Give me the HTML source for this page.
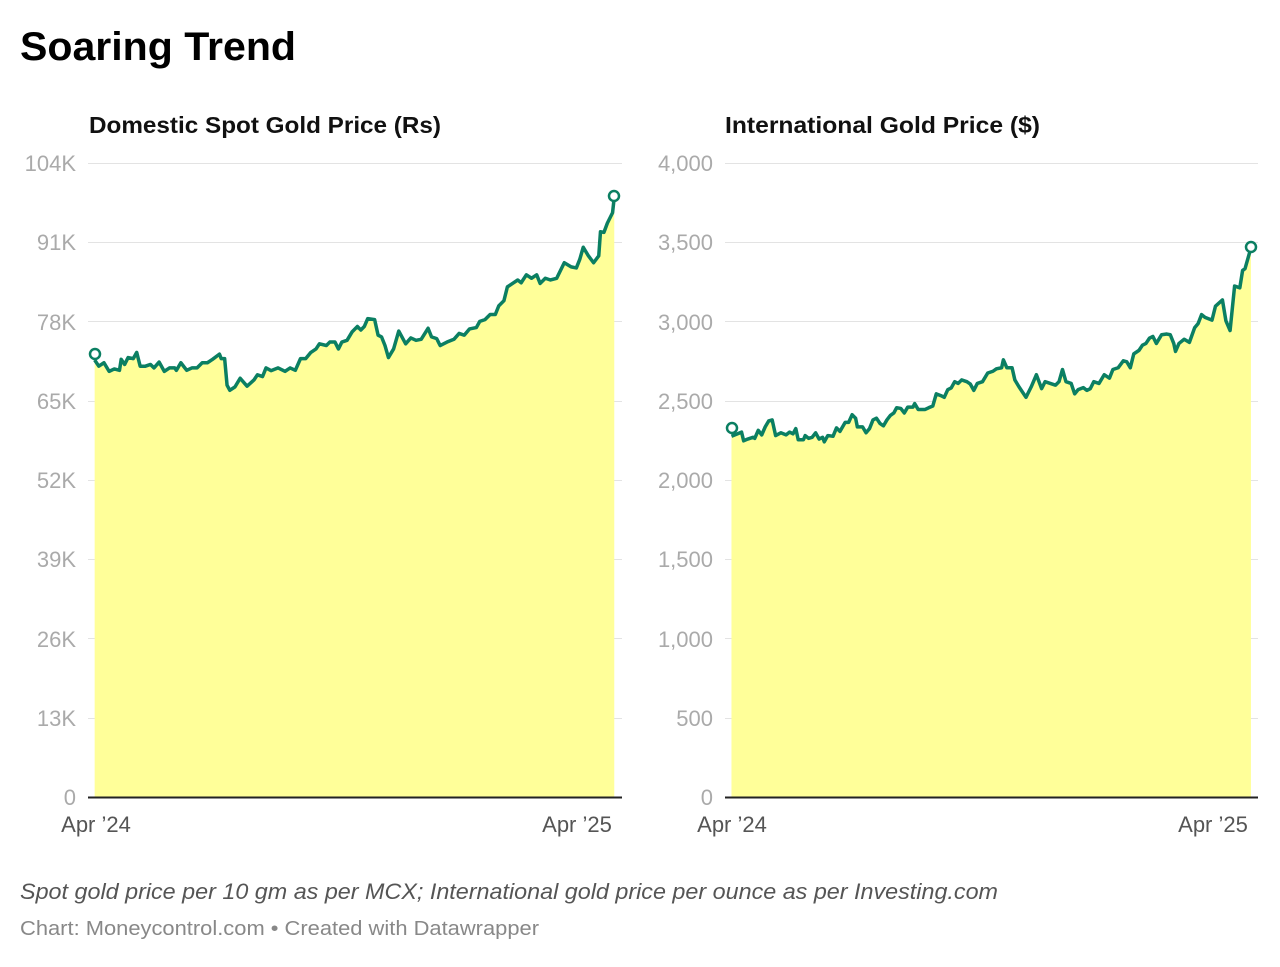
<!DOCTYPE html>
<html><head><meta charset="utf-8"><style>
body{margin:0;background:#fff;width:1280px;height:962px;overflow:hidden;font-family:"Liberation Sans",Arial,sans-serif;}
</style></head><body>
<svg width="1280" height="962" xmlns="http://www.w3.org/2000/svg" font-family="Liberation Sans, Arial, sans-serif">
<text x="20" y="60" font-size="40" font-weight="bold" fill="#000" textLength="276" lengthAdjust="spacingAndGlyphs">Soaring Trend</text>
<text x="89" y="133" font-size="23" font-weight="bold" fill="#111" textLength="352" lengthAdjust="spacingAndGlyphs">Domestic Spot Gold Price (Rs)</text>
<text x="725" y="133" font-size="23" font-weight="bold" fill="#111" textLength="315" lengthAdjust="spacingAndGlyphs">International Gold Price ($)</text>
<g stroke="#e3e3e3" stroke-width="1">
<line x1="88" x2="622" y1="163.5" y2="163.5"/><line x1="88" x2="622" y1="242.5" y2="242.5"/><line x1="88" x2="622" y1="321.5" y2="321.5"/><line x1="88" x2="622" y1="401.5" y2="401.5"/><line x1="88" x2="622" y1="480.5" y2="480.5"/><line x1="88" x2="622" y1="559.5" y2="559.5"/><line x1="88" x2="622" y1="638.5" y2="638.5"/><line x1="88" x2="622" y1="718.5" y2="718.5"/>
<line x1="725" x2="1258" y1="163.5" y2="163.5"/><line x1="725" x2="1258" y1="242.5" y2="242.5"/><line x1="725" x2="1258" y1="321.5" y2="321.5"/><line x1="725" x2="1258" y1="401.5" y2="401.5"/><line x1="725" x2="1258" y1="480.5" y2="480.5"/><line x1="725" x2="1258" y1="559.5" y2="559.5"/><line x1="725" x2="1258" y1="638.5" y2="638.5"/><line x1="725" x2="1258" y1="718.5" y2="718.5"/>
</g>
<g font-size="22" fill="#aaaaaa" text-anchor="end">
<text x="76" y="171">104K</text><text x="76" y="250">91K</text><text x="76" y="330">78K</text><text x="76" y="409">65K</text><text x="76" y="488">52K</text><text x="76" y="567">39K</text><text x="76" y="647">26K</text><text x="76" y="726">13K</text><text x="76" y="805">0</text>
<text x="713" y="171">4,000</text><text x="713" y="250">3,500</text><text x="713" y="330">3,000</text><text x="713" y="409">2,500</text><text x="713" y="488">2,000</text><text x="713" y="567">1,500</text><text x="713" y="647">1,000</text><text x="713" y="726">500</text><text x="713" y="805">0</text>
</g>
<g transform="translate(85,180) scale(0.3448)">
<polygon fill="#ffff99" points="28,522 40,540 55,530 70,555 85,548 100,552 105,520 115,535 125,515 140,518 150,500 160,540 175,540 190,535 200,545 215,528 230,555 245,545 260,545 265,552 278,530 295,552 310,545 325,545 340,530 355,530 370,520 390,505 395,518 405,518 412,595 420,610 435,600 450,575 470,598 490,580 500,565 515,570 525,545 540,553 560,545 580,555 595,545 610,552 625,518 640,518 655,500 670,490 680,475 700,480 710,470 725,470 735,490 745,470 760,465 775,440 790,425 800,435 810,425 820,402 840,405 850,450 860,455 870,480 880,515 895,490 910,438 930,475 945,458 960,465 975,462 995,430 1005,455 1020,460 1030,480 1050,470 1070,462 1085,445 1100,450 1115,432 1135,428 1145,410 1160,405 1175,390 1190,390 1200,365 1215,350 1225,310 1240,300 1255,290 1265,298 1280,275 1295,285 1310,275 1320,300 1335,285 1350,290 1368,285 1390,240 1410,252 1425,255 1435,230 1445,195 1460,220 1475,240 1490,220 1495,150 1505,152 1515,125 1530,95 1535,50 1535,1789 28,1789"/>
<polyline fill="none" stroke="#0b7f62" stroke-width="3.5" vector-effect="non-scaling-stroke" stroke-linejoin="round" points="28,522 40,540 55,530 70,555 85,548 100,552 105,520 115,535 125,515 140,518 150,500 160,540 175,540 190,535 200,545 215,528 230,555 245,545 260,545 265,552 278,530 295,552 310,545 325,545 340,530 355,530 370,520 390,505 395,518 405,518 412,595 420,610 435,600 450,575 470,598 490,580 500,565 515,570 525,545 540,553 560,545 580,555 595,545 610,552 625,518 640,518 655,500 670,490 680,475 700,480 710,470 725,470 735,490 745,470 760,465 775,440 790,425 800,435 810,425 820,402 840,405 850,450 860,455 870,480 880,515 895,490 910,438 930,475 945,458 960,465 975,462 995,430 1005,455 1020,460 1030,480 1050,470 1070,462 1085,445 1100,450 1115,432 1135,428 1145,410 1160,405 1175,390 1190,390 1200,365 1215,350 1225,310 1240,300 1255,290 1265,298 1280,275 1295,285 1310,275 1320,300 1335,285 1350,290 1368,285 1390,240 1410,252 1425,255 1435,230 1445,195 1460,220 1475,240 1490,220 1495,150 1505,152 1515,125 1530,95 1535,50"/>
</g>
<g transform="translate(720,220) scale(0.3477)">
<polygon fill="#ffff99" points="33,622 50,615 62,610 68,635 80,630 95,625 100,628 110,605 120,618 130,595 140,578 150,575 160,620 175,612 190,618 200,610 210,615 218,600 225,632 240,632 245,620 255,628 265,625 275,612 285,630 295,625 300,638 310,620 325,622 335,598 345,608 360,582 370,582 380,560 390,570 395,595 410,595 420,612 430,600 440,575 450,570 460,585 470,592 480,575 490,562 500,555 508,540 520,542 530,555 540,538 555,538 560,528 570,545 590,545 600,540 612,535 622,500 635,505 645,510 655,488 665,483 675,465 685,470 695,460 710,465 720,472 730,490 740,470 755,465 770,440 785,435 795,428 810,425 815,402 825,425 840,425 848,460 860,480 880,510 895,480 910,445 925,485 935,465 950,470 965,475 975,465 985,430 995,465 1010,470 1020,500 1030,488 1045,482 1055,490 1065,485 1075,465 1090,470 1105,445 1120,455 1130,430 1145,425 1160,405 1170,408 1180,425 1190,385 1205,375 1215,360 1225,355 1235,340 1245,335 1255,355 1270,330 1285,328 1295,330 1305,355 1310,378 1320,355 1335,343 1350,352 1365,310 1375,298 1385,272 1395,280 1415,288 1425,248 1445,230 1455,290 1467,318 1480,190 1495,195 1503,145 1510,140 1527,80 1527,1659 33,1659"/>
<polyline fill="none" stroke="#0b7f62" stroke-width="3.5" vector-effect="non-scaling-stroke" stroke-linejoin="round" points="33,622 50,615 62,610 68,635 80,630 95,625 100,628 110,605 120,618 130,595 140,578 150,575 160,620 175,612 190,618 200,610 210,615 218,600 225,632 240,632 245,620 255,628 265,625 275,612 285,630 295,625 300,638 310,620 325,622 335,598 345,608 360,582 370,582 380,560 390,570 395,595 410,595 420,612 430,600 440,575 450,570 460,585 470,592 480,575 490,562 500,555 508,540 520,542 530,555 540,538 555,538 560,528 570,545 590,545 600,540 612,535 622,500 635,505 645,510 655,488 665,483 675,465 685,470 695,460 710,465 720,472 730,490 740,470 755,465 770,440 785,435 795,428 810,425 815,402 825,425 840,425 848,460 860,480 880,510 895,480 910,445 925,485 935,465 950,470 965,475 975,465 985,430 995,465 1010,470 1020,500 1030,488 1045,482 1055,490 1065,485 1075,465 1090,470 1105,445 1120,455 1130,430 1145,425 1160,405 1170,408 1180,425 1190,385 1205,375 1215,360 1225,355 1235,340 1245,335 1255,355 1270,330 1285,328 1295,330 1305,355 1310,378 1320,355 1335,343 1350,352 1365,310 1375,298 1385,272 1395,280 1415,288 1425,248 1445,230 1455,290 1467,318 1480,190 1495,195 1503,145 1510,140 1527,80"/>
</g>
<g fill="#fff" stroke="#0b7f62" stroke-width="2.5">
<circle cx="95" cy="354" r="5"/><circle cx="614" cy="196" r="5"/>
<circle cx="732" cy="428" r="5"/><circle cx="1251" cy="247" r="5"/>
</g>
<line x1="88" x2="622" y1="797.5" y2="797.5" stroke="#222" stroke-width="2"/>
<line x1="725" x2="1258" y1="797.5" y2="797.5" stroke="#222" stroke-width="2"/>
<g font-size="22" fill="#555" text-anchor="middle">
<text x="96" y="832">Apr ’24</text><text x="577" y="832">Apr ’25</text>
<text x="732" y="832">Apr ’24</text><text x="1213" y="832">Apr ’25</text>
</g>
<text x="20" y="899" font-size="22" font-style="italic" fill="#555" textLength="978" lengthAdjust="spacingAndGlyphs">Spot gold price per 10 gm as per MCX; International gold price per ounce as per Investing.com</text>
<text x="20" y="935" font-size="20" fill="#888" textLength="519" lengthAdjust="spacingAndGlyphs">Chart: Moneycontrol.com • Created with Datawrapper</text>
</svg>
</body></html>
